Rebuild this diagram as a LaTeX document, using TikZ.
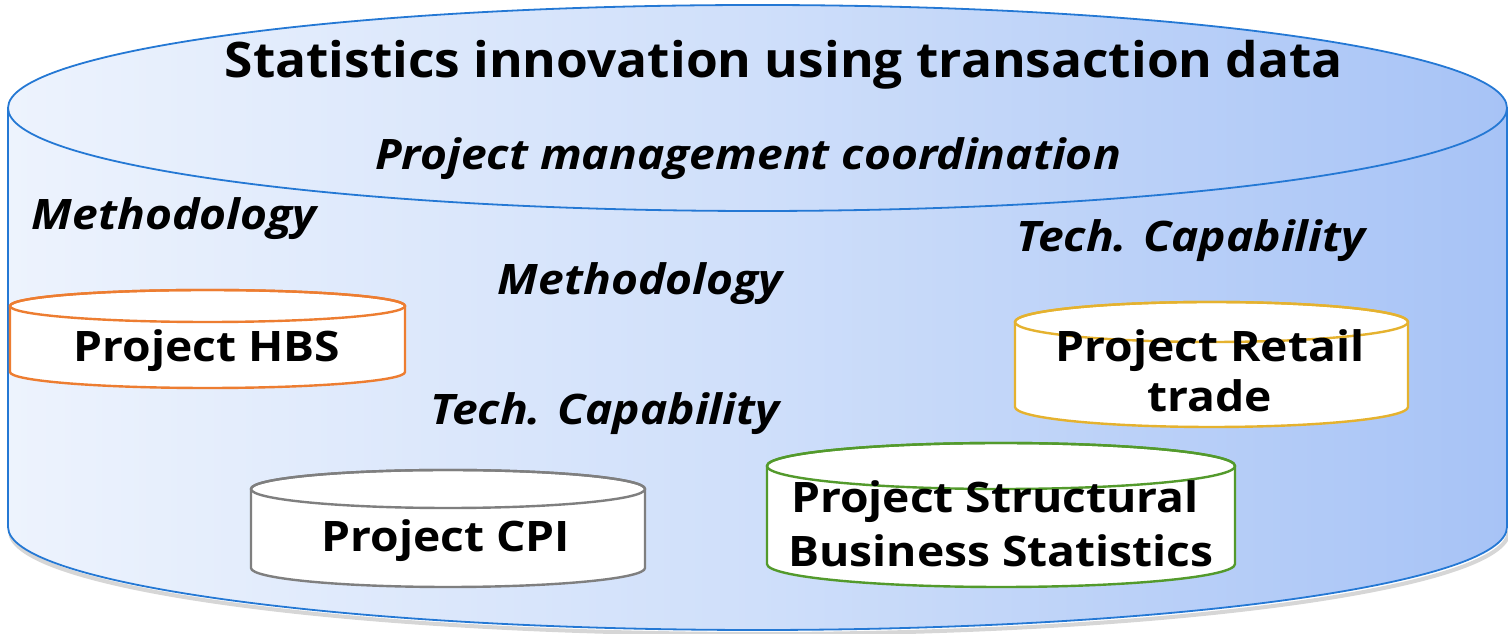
\documentclass[tikz,border=0pt]{standalone}
\usepackage{fontspec}
\setmainfont{Open Sans}
\newfontfamily\widefont[FakeStretch=1.1]{Open Sans}
\newfontfamily\titlefont[FakeStretch=1.05]{Open Sans}
\definecolor{bigline}{HTML}{2478D4}
\definecolor{gleft}{HTML}{EDF3FD}
\definecolor{gmid}{HTML}{CFDFFA}
\definecolor{gright}{HTML}{A7C3F6}
\definecolor{corange}{HTML}{ED7D31}
\definecolor{cgold}{HTML}{E5B22F}
\definecolor{cgray}{HTML}{7F7F7F}
\definecolor{cgreen}{HTML}{539A2C}
\tikzset{
  titletext/.style={anchor=base, font=\titlefont\bfseries\fontsize{49}{58}\selectfont, inner sep=0},
  itext/.style={anchor=base, font=\widefont\bfseries\itshape\fontsize{42}{50}\selectfont, inner sep=0},
  ptext/.style={anchor=base, font=\widefont\bfseries\fontsize{42}{51}\selectfont, inner sep=0, align=center},
  cylline/.style={line width=2.4pt},
}
\begin{document}
\begin{tikzpicture}[x=1pt,y=1pt]
\useasboundingbox (0,0) rectangle (1508,634);
% shadow
\draw[line width=4pt, gray!40, opacity=0.8] (10,103) arc[start angle=180,end angle=360,x radius=749.5,y radius=103];
% big cylinder body
\shade[left color=gleft, right color=gright, middle color=gmid]
  (8,526) -- (8,107) arc[start angle=180,end angle=360,x radius=749.5,y radius=103]
  -- (1507,526) arc[start angle=0,end angle=180,x radius=749.5,y radius=103] -- cycle;
\draw[bigline, line width=1.8pt]
  (8,526) -- (8,107) arc[start angle=180,end angle=360,x radius=749.5,y radius=103]
  -- (1507,526);
\draw[bigline, line width=1.8pt] (757.5,526) ellipse[x radius=749.5, y radius=103];
% small cylinders
% HBS
\filldraw[fill=white, draw=corange, cylline] (10,328) -- (10,262) arc[start angle=180,end angle=360,x radius=197.5,y radius=16] -- (405,328) arc[start angle=0,end angle=180,x radius=197.5,y radius=16] -- cycle;
\draw[corange, cylline] (207.5,328) ellipse[x radius=197.5, y radius=16];
% Retail
\filldraw[fill=white, draw=cgold, cylline] (1015,312) -- (1015,227) arc[start angle=180,end angle=360,x radius=196.5,y radius=20] -- (1408,312) arc[start angle=0,end angle=180,x radius=196.5,y radius=20] -- cycle;
\draw[cgold, cylline] (1211.5,312) ellipse[x radius=196.5, y radius=20];
% CPI
\filldraw[fill=white, draw=cgray, cylline] (251,145) -- (251,66) arc[start angle=180,end angle=360,x radius=197,y radius=19] -- (645,145) arc[start angle=0,end angle=180,x radius=197,y radius=19] -- cycle;
\draw[cgray, cylline] (448,145) ellipse[x radius=197, y radius=19];
% SBS
\filldraw[fill=white, draw=cgreen, cylline] (767,168) -- (767,70) arc[start angle=180,end angle=360,x radius=234,y radius=23] -- (1235,168) arc[start angle=0,end angle=180,x radius=234,y radius=23] -- cycle;
\draw[cgreen, cylline] (1001,168) ellipse[x radius=234, y radius=23];
% texts
\node[titletext] (title) at (784,556) {Statistics innovation using transaction data};
\node[itext] (pmc) at (748,464) {Project management coordination};
\node[itext] (meth1) at (174,404) {Methodology};
\node[itext] (meth2) at (640,339) {Methodology};
\node[itext] (tech1) at (1191,382) {Tech. Capability};
\node[itext] (tech2) at (605,209) {Tech. Capability};
\node[ptext] (hbs) at (207,272) {Project HBS};
\node[ptext] (retail1) at (1210,272) {Project Retail};
\node[ptext] (retail2) at (1210,222) {trade};
\node[ptext] (cpi) at (446,82) {Project CPI};
\node[ptext] (sbs1) at (995,121) {Project Structural};
\node[ptext] (sbs2) at (1001,67) {Business Statistics};
\end{tikzpicture}
\end{document}
